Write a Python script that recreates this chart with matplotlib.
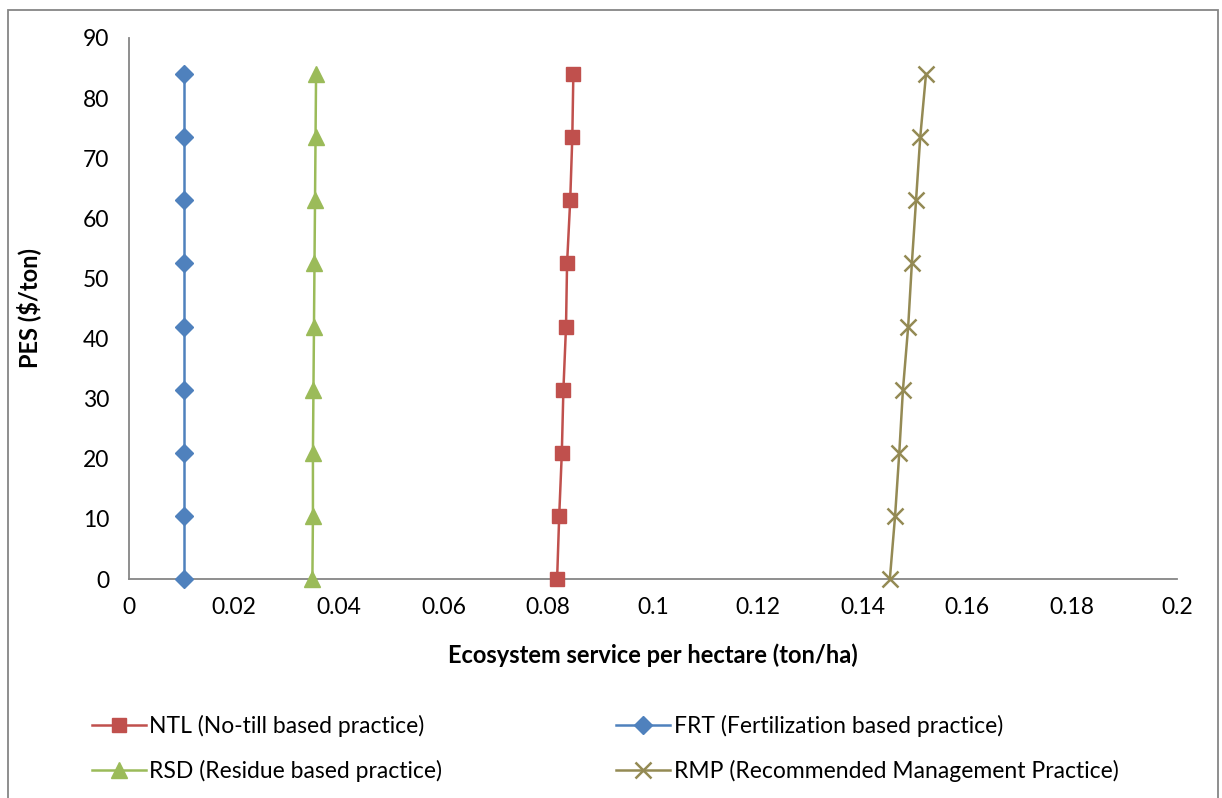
import matplotlib
matplotlib.use("Agg")
import matplotlib.pyplot as plt
from matplotlib.patches import Rectangle

# Data
pes = [0, 10.5, 21, 31.5, 42, 52.5, 63, 73.5, 84]
ntl = [0.0817, 0.0821, 0.0826, 0.0829, 0.0834, 0.0836, 0.0842, 0.0846, 0.0848]
frt = [0.0105, 0.0105, 0.0105, 0.0105, 0.0105, 0.0105, 0.0105, 0.0105, 0.0105]
rsd = [0.0350, 0.0351, 0.0351, 0.0352, 0.0353, 0.0354, 0.0355, 0.0356, 0.0357]
rmp = [0.1452, 0.1462, 0.1470, 0.1477, 0.1487, 0.1494, 0.1502, 0.1510, 0.1521]

labels = {
    "ntl": "NTL (No-till based practice)",
    "frt": "FRT (Fertilization based practice)",
    "rsd": "RSD (Residue based practice)",
    "rmp": "RMP (Recommended Management Practice)",
}
xticks = [0, 0.02, 0.04, 0.06, 0.08, 0.1, 0.12, 0.14, 0.16, 0.18, 0.2]
xticklabels = ["0", "0.02", "0.04", "0.06", "0.08", "0.1", "0.12", "0.14", "0.16", "0.18", "0.2"]
yticks = [0, 10, 20, 30, 40, 50, 60, 70, 80, 90]

plt.rcParams['font.family'] = ['Lato', 'DejaVu Sans']
FS = 16.5

W, H = 1222, 798
fig = plt.figure(figsize=(W / 100, H / 100), dpi=100)
ax = fig.add_axes([129 / W, 1 - 579 / H, (1177 - 129) / W, (579 - 38) / H])

lw = 1.8
h_frt, = ax.plot(frt, pes, color='#4F81BD', lw=lw, marker='D', ms=9, label=labels["frt"], clip_on=False, zorder=3)
h_rsd, = ax.plot(rsd, pes, color='#9BBB59', lw=lw, marker='^', ms=11, label=labels["rsd"], clip_on=False, zorder=3)
h_ntl, = ax.plot(ntl, pes, color='#C0504D', lw=lw, marker='s', ms=9.5, label=labels["ntl"], clip_on=False, zorder=3)
h_rmp, = ax.plot(rmp, pes, color='#948A54', lw=lw, marker='x', ms=12, mew=1.8, label=labels["rmp"], clip_on=False, zorder=3)

ax.set_xlim(0, 0.2)
ax.set_ylim(0, 90)
ax.set_xticks(xticks)
ax.set_xticklabels(xticklabels)
ax.set_yticks(yticks)
ax.tick_params(axis='both', length=0, labelsize=FS, colors='black')
ax.tick_params(axis='x', pad=13)
ax.tick_params(axis='y', pad=14)
for s in ['top', 'right']:
    ax.spines[s].set_visible(False)
for s in ['left', 'bottom']:
    ax.spines[s].set_color('#868686')
    ax.spines[s].set_linewidth(1.3)

ax.set_xlabel("Ecosystem service per hectare (ton/ha)", fontsize=17, fontweight='bold')
ax.set_ylabel("PES ($/ton)", fontsize=17, fontweight='bold')
ax.xaxis.set_label_coords(0.5, -(643 - 579) / (579 - 38))
ax.yaxis.set_label_coords(-(129 - 41) / (1177 - 129), 0.5)

leg = fig.legend(handles=[h_ntl, h_rsd, h_frt, h_rmp], ncol=2, loc='upper left',
                 bbox_to_anchor=(71 / W, 1 - 694 / H), frameon=False, fontsize=FS,
                 handlelength=2.36, handletextpad=0.15, columnspacing=7.6, labelspacing=1.0)

fig.patches.append(Rectangle((8 / W, -0.01), (1218 - 8) / W, 1 - 10 / H + 0.01,
                             transform=fig.transFigure, fill=False, edgecolor='#868686', lw=1.3))

fig.savefig("out.png", dpi=100)
